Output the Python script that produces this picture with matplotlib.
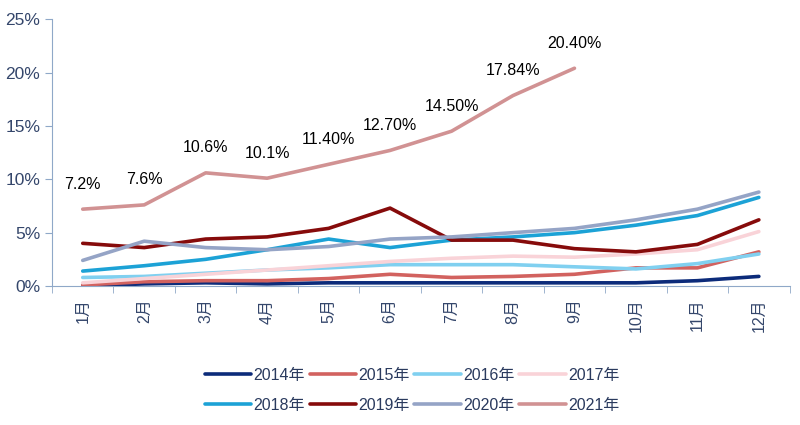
import numpy as np
import matplotlib.pyplot as plt
from matplotlib.ticker import PercentFormatter

plt.rcParams['font.family'] = ['Liberation Sans', 'Noto Sans CJK SC']

months = ['1月', '2月', '3月', '4月', '5月', '6月', '7月', '8月', '9月', '10月', '11月', '12月']

# 各年份月度数据（%）
y2014 = [0.0, 0.2, 0.3, 0.2, 0.3, 0.3, 0.3, 0.3, 0.3, 0.3, 0.5, 0.9]
y2015 = [0.1, 0.4, 0.5, 0.5, 0.7, 1.1, 0.8, 0.9, 1.1, 1.7, 1.7, 3.2]
y2016 = [0.8, 0.9, 1.2, 1.5, 1.7, 2.0, 2.0, 2.0, 1.8, 1.6, 2.1, 3.0]
y2017 = [0.3, 0.7, 1.1, 1.5, 1.9, 2.3, 2.6, 2.8, 2.7, 3.0, 3.4, 5.1]
y2018 = [1.4, 1.9, 2.5, 3.4, 4.4, 3.6, 4.3, 4.6, 5.0, 5.7, 6.6, 8.3]
y2019 = [4.0, 3.6, 4.4, 4.6, 5.4, 7.3, 4.3, 4.3, 3.5, 3.2, 3.9, 6.2]
y2020 = [2.4, 4.2, 3.6, 3.4, 3.7, 4.4, 4.6, 5.0, 5.4, 6.2, 7.2, 8.8]
y2021 = [7.2, 7.6, 10.6, 10.1, 11.4, 12.7, 14.5, 17.84, 20.4]
labels2021 = ['7.2%', '7.6%', '10.6%', '10.1%', '11.40%', '12.70%', '14.50%', '17.84%', '20.40%']

series = [
    ('2014年', y2014, '#0c2b7a'),
    ('2015年', y2015, '#d2625f'),
    ('2016年', y2016, '#80d0f0'),
    ('2017年', y2017, '#f9d3d8'),
    ('2018年', y2018, '#1ca2d6'),
    ('2019年', y2019, '#860b0b'),
    ('2020年', y2020, '#95a4c6'),
    ('2021年', y2021, '#d19293'),
]

fig = plt.figure(figsize=(8, 4.25), dpi=100)
ax = fig.add_axes([0.065, 0.327, 0.922, 0.628])

x = np.arange(len(months))
handles = []
for name, vals, color in series:
    h, = ax.plot(x[:len(vals)], vals, color=color, lw=2.6, label=name, solid_capstyle='round')
    handles.append(h)

# 2021年数据标签
for xi, v, lab in zip(x, y2021, labels2021):
    ax.annotate(lab, (xi, v), xytext=(0, 18), textcoords='offset points',
                ha='center', va='center', fontsize=11.5, color='black')

ax.set_xlim(-0.5, 11.5)
ax.set_ylim(0, 25)
ax.set_yticks([0, 5, 10, 15, 20, 25])
ax.yaxis.set_major_formatter(PercentFormatter(decimals=0))
ax.set_xticks(x)
ax.set_xticklabels(months, rotation=90)
ax.set_xticks(np.arange(-0.5, 12, 1), minor=True)
ax.tick_params(axis='x', which='major', length=0, pad=9, labelsize=11.5, colors='#34466b')
ax.tick_params(axis='x', which='minor', length=5, color='#8fa8c8')
ax.tick_params(axis='y', length=5, color='#8fa8c8', labelsize=12.5, labelcolor='#34466b')

for s in ['top', 'right']:
    ax.spines[s].set_visible(False)
for s in ['left', 'bottom']:
    ax.spines[s].set_color('#8fa8c8')

# 图例按行排列：先列出每一列的两个条目
order = [0, 4, 1, 5, 2, 6, 3, 7]
fig.legend([handles[i] for i in order], [series[i][0] for i in order],
           loc='center', bbox_to_anchor=(0.515, 0.082), ncol=4, frameon=False,
           fontsize=11.5, handlelength=2.9, handletextpad=0.15, columnspacing=0.3,
           labelcolor='#2a3a5e', labelspacing=0.95)

fig.savefig('out.png', dpi=100)
